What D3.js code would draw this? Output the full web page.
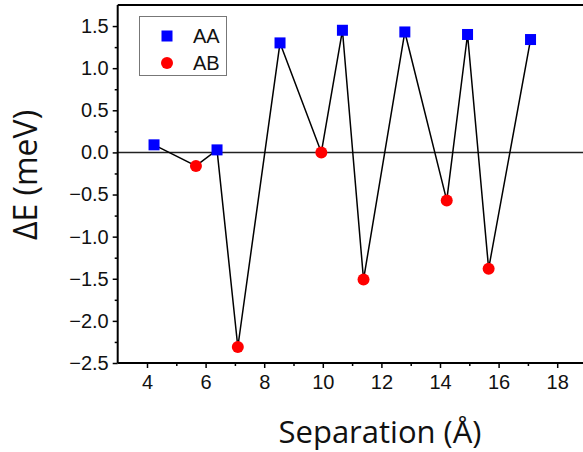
<!DOCTYPE html>
<html>
<head>
<meta charset="utf-8">
<script src="https://cdn.jsdelivr.net/npm/d3@7"></script>
<style>
  body { margin: 0; background: #fff; }
  svg { display: block; }
</style>
</head>
<body>
<svg id="chart" width="583" height="452"></svg>
<script>
// separation (Å) and energy difference (meV)
var aaX = [4.24, 6.39, 8.54, 10.67, 12.8, 14.94, 17.09];
var aaY = [0.09, 0.03, 1.30, 1.45, 1.43, 1.40, 1.34];
var abX = [5.67, 7.10, 9.95, 11.39, 14.23, 15.66];
var abY = [-0.16, -2.31, 0.0, -1.51, -0.57, -1.38];
var xTicks = [4, 6, 8, 10, 12, 14, 16, 18];
var xMinor = [5, 7, 9, 11, 13, 15, 17];
var yTicks = [-2.5, -2.0, -1.5, -1.0, -0.5, 0.0, 0.5, 1.0, 1.5];
var yMinor = [-2.25, -1.75, -1.25, -0.75, -0.25, 0.25, 0.75, 1.25];

var mLeft = 117.7, mTop = 5, mBottom = 363, mRight = 586.5;
var tickFont = "Liberation Sans, Arial, sans-serif";
var titleFont = "Open Sans, Noto Sans, sans-serif";

var svg = d3.select("#chart");

var x = d3.scaleLinear().domain([3, 19]).range([mLeft, mRight]);
var y = d3.scaleLinear().domain([-2.5, 1.75]).range([mBottom, mTop]);

var aa = aaX.map(function (d, i) { return {x: d, y: aaY[i]}; });
var ab = abX.map(function (d, i) { return {x: d, y: abY[i]}; });
var all = aa.concat(ab).sort(function (a, b) { return a.x - b.x; });

// zero line
svg.append("line")
    .attr("x1", mLeft).attr("x2", 583)
    .attr("y1", y(0)).attr("y2", y(0))
    .attr("stroke", "#222").attr("stroke-width", 1.5);

// axes
svg.append("g")
    .attr("transform", "translate(0," + mBottom + ")")
    .call(d3.axisBottom(x).tickValues(xTicks).tickSize(5).tickPadding(7).tickFormat(d3.format("d")));
svg.append("g")
    .attr("transform", "translate(0," + mBottom + ")")
    .call(d3.axisBottom(x).tickValues(xMinor).tickSize(3).tickFormat(""));

svg.append("g")
    .attr("transform", "translate(" + mLeft + ",0)")
    .call(d3.axisLeft(y).tickValues(yTicks).tickSize(5).tickPadding(4).tickFormat(d3.format(".1f")));
svg.append("g")
    .attr("transform", "translate(" + mLeft + ",0)")
    .call(d3.axisLeft(y).tickValues(yMinor).tickSize(3).tickFormat(""));

svg.selectAll(".domain").remove();
svg.selectAll(".tick line").attr("stroke", "#000").attr("stroke-width", 1.5);
svg.selectAll(".tick text")
    .attr("font-family", tickFont)
    .attr("font-size", "20px")
    .attr("fill", "#111");

// frame lines
svg.append("line").attr("x1", mLeft).attr("x2", 583).attr("y1", mBottom).attr("y2", mBottom)
    .attr("stroke", "#000").attr("stroke-width", 2);
svg.append("line").attr("x1", mLeft).attr("x2", mLeft).attr("y1", mTop).attr("y2", mBottom)
    .attr("stroke", "#000").attr("stroke-width", 2);
svg.append("line").attr("x1", mLeft).attr("x2", 583).attr("y1", mTop).attr("y2", mTop)
    .attr("stroke", "#000").attr("stroke-width", 2);

// connecting line
var line = d3.line().x(function (d) { return x(d.x); }).y(function (d) { return y(d.y); });
svg.append("path")
    .datum(all)
    .attr("d", line)
    .attr("fill", "none")
    .attr("stroke", "#000")
    .attr("stroke-width", 1.5);

// markers
svg.selectAll("rect.aa")
    .data(aa).enter().append("rect")
    .attr("class", "aa")
    .attr("x", function (d) { return x(d.x) - 5.5; })
    .attr("y", function (d) { return y(d.y) - 5.5; })
    .attr("width", 11).attr("height", 11)
    .attr("fill", "#0000ff");

svg.selectAll("circle.ab")
    .data(ab).enter().append("circle")
    .attr("class", "ab")
    .attr("cx", function (d) { return x(d.x); })
    .attr("cy", function (d) { return y(d.y); })
    .attr("r", 6)
    .attr("fill", "#ff0000");

// legend
var legend = svg.append("g");
legend.append("rect")
    .attr("x", 139.5).attr("y", 16.5).attr("width", 87).attr("height", 59)
    .attr("fill", "#fff").attr("stroke", "#777").attr("stroke-width", 1);
legend.append("rect")
    .attr("x", 161.5).attr("y", 30.5).attr("width", 11).attr("height", 11)
    .attr("fill", "#0000ff");
legend.append("circle")
    .attr("cx", 167).attr("cy", 63).attr("r", 6)
    .attr("fill", "#ff0000");
legend.selectAll("text")
    .data(["AA", "AB"]).enter().append("text")
    .attr("x", 193)
    .attr("y", function (d, i) { return 43 + i * 27; })
    .attr("font-family", tickFont)
    .attr("font-size", "20px")
    .attr("fill", "#111")
    .text(function (d) { return d; });

// axis titles
svg.append("text")
    .attr("x", 380).attr("y", 443)
    .attr("text-anchor", "middle")
    .attr("font-family", titleFont)
    .attr("font-size", "31px")
    .attr("fill", "#111")
    .text("Separation (Å)");

svg.append("text")
    .attr("transform", "translate(37,175) rotate(-90)")
    .attr("text-anchor", "middle")
    .attr("font-family", titleFont)
    .attr("font-size", "32px")
    .attr("fill", "#111")
    .text("ΔE (meV)");
</script>
</body>
</html>
